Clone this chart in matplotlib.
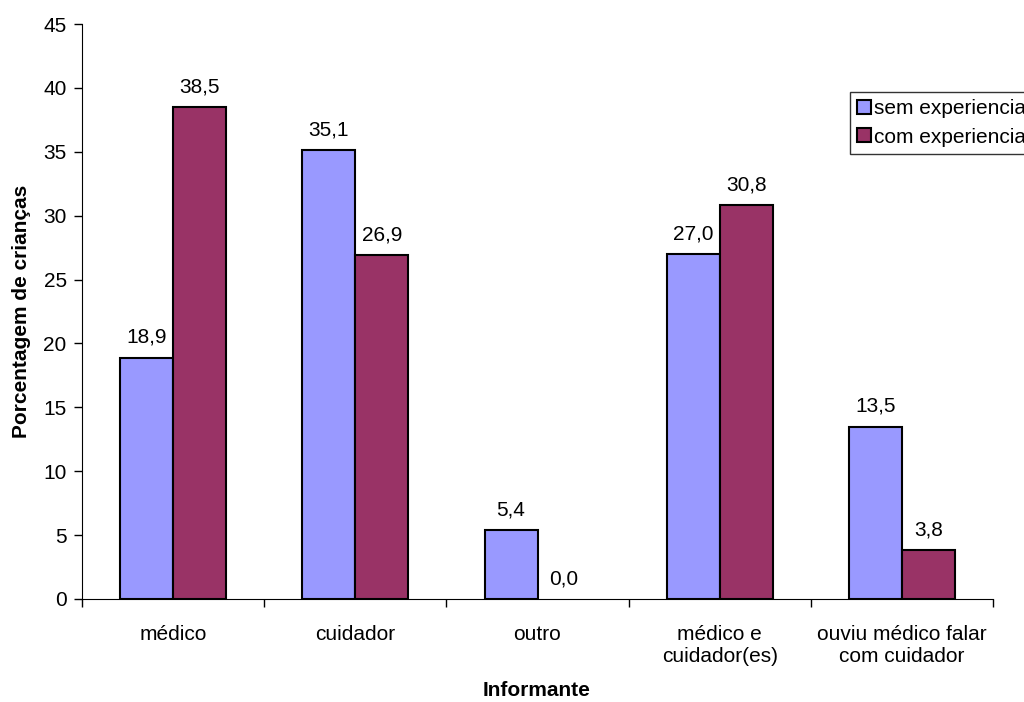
import numpy as np
import matplotlib.pyplot as plt

categorias = ['médico', 'cuidador', 'outro', 'médico e\ncuidador(es)', 'ouviu médico falar\ncom cuidador']
sem_experiencia = [18.9, 35.1, 5.4, 27.0, 13.5]
com_experiencia = [38.5, 26.9, 0.0, 30.8, 3.8]
series = ['sem experiencia', 'com experiencia']

plt.rcParams['font.family'] = ['Liberation Sans', 'DejaVu Sans']
plt.rcParams['font.size'] = 15

fig = plt.figure(figsize=(10.24, 7.02), dpi=100)
ax = fig.add_axes([82 / 1024, 1 - 599 / 702, (993 - 82) / 1024, (599 - 24) / 702])

x = np.arange(len(categorias))
w = 0.29
b1 = ax.bar(x - w / 2, sem_experiencia, w, color='#9999FF', edgecolor='black', linewidth=1.5, label=series[0])
b2 = ax.bar(x + w / 2, com_experiencia, w, color='#993366', edgecolor='black', linewidth=1.5, label=series[1])

for bars, vals in ((b1, sem_experiencia), (b2, com_experiencia)):
    for r, v in zip(bars, vals):
        if v == 0:
            r.set_linewidth(0)
        ax.text(r.get_x() + r.get_width() / 2, v + 1.15, f'{v:.1f}'.replace('.', ','),
                ha='center', va='baseline')

ax.set_xlim(-0.5, len(categorias) - 0.5)
ax.set_ylim(0, 45)
ax.set_yticks(range(0, 46, 5))
ax.set_xticks(np.arange(-0.5, len(categorias), 1))
ax.set_xticklabels([])
ax.set_xticks(x, minor=True)
ax.set_xticklabels(categorias, minor=True)
ax.tick_params(axis='x', which='minor', length=0, pad=19)
ax.tick_params(axis='both', which='major', length=6, width=1, direction='out')
ax.tick_params(axis='y', pad=5)

for s in ('top', 'right'):
    ax.spines[s].set_visible(False)

ax.set_ylabel('Porcentagem de crianças', fontweight='bold', labelpad=9)
fig.text(537 / 1024, 1 - 691 / 702, 'Informante', fontweight='bold', ha='center', va='center')

leg = fig.legend(loc='upper left', bbox_to_anchor=(850 / 1024, 1 - 92 / 702), frameon=True,
                 fancybox=False, edgecolor='black', handlelength=0.65, handleheight=0.65,
                 handletextpad=0.15, borderpad=0.35, borderaxespad=0, labelspacing=0.45,
                 shadow=False)
leg.get_frame().set_linewidth(1)

fig.savefig('out.png', dpi=100)
